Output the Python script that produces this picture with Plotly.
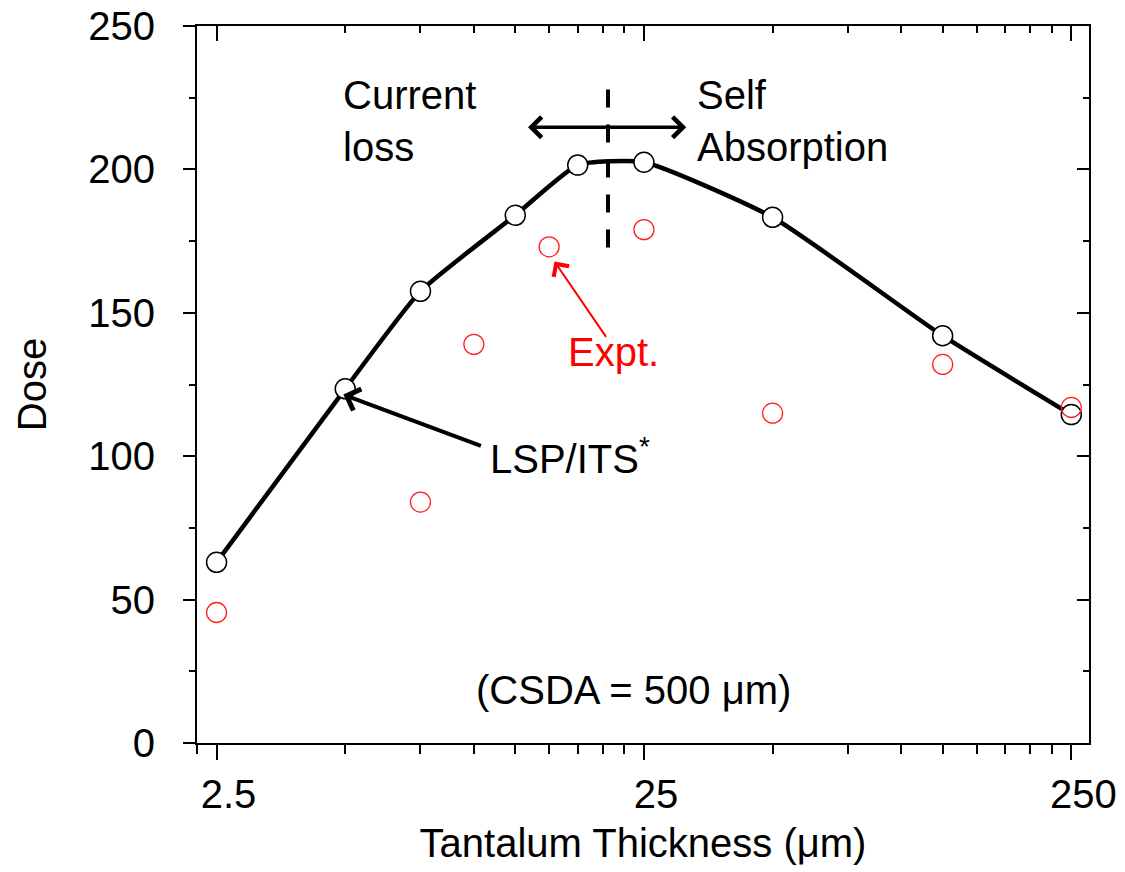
import math
import plotly.graph_objects as go

# ---- data ----
thickness_sim = [2.5, 5, 7.5, 12.5, 17.5, 25, 50, 125, 250]
dose_sim = [63, 123.5, 157.5, 184, 201.5, 202.5, 183.3, 142, 114.5]

thickness_expt = [2.5, 7.5, 10, 15, 25, 50, 125, 250]
dose_expt = [45.5, 84, 139, 173, 179, 115, 132, 117]

divider_x = [20.6, 20.6]
divider_y = [172.8, 229.7]

x_ticks = [2.5, 25, 250]
x_ticktext = ["2.5", "25", "250"]
x_minor = [2.25, 5, 7.5, 10, 12.5, 15, 17.5, 20, 22.5,
           50, 75, 100, 125, 150, 175, 200, 225]
y_ticks = [0, 50, 100, 150, 200, 250]

FONT = "Liberation Sans, Arial, sans-serif"
L = math.log10

fig = go.Figure()

# dashed divider
fig.add_trace(go.Scatter(x=divider_x, y=divider_y, mode="lines",
                         line=dict(color="black", width=4, dash="18px,17px"),
                         showlegend=False, hoverinfo="skip"))

# simulation curve
fig.add_trace(go.Scatter(x=thickness_sim, y=dose_sim, mode="lines",
                         line=dict(color="black", width=4.5, shape="spline", smoothing=0.5),
                         showlegend=False))
fig.add_trace(go.Scatter(x=thickness_sim, y=dose_sim, mode="markers",
                         marker=dict(symbol="circle", size=20, color="white",
                                     line=dict(color="black", width=1.5)),
                         showlegend=False))
# experiment
fig.add_trace(go.Scatter(x=thickness_expt, y=dose_expt, mode="markers",
                         marker=dict(symbol="circle-open", size=20, color="#ff2020",
                                     line=dict(width=1.3)),
                         showlegend=False))
# invisible trace to register the mirror axes
fig.add_trace(go.Scatter(x=thickness_sim, y=dose_sim, mode="markers", xaxis="x2", yaxis="y2",
                         marker=dict(opacity=0), showlegend=False, hoverinfo="skip"))

xr = [L(2.25), L(275)]
common_x = dict(type="log", range=xr, showline=True, linecolor="black", linewidth=2,
                tickvals=x_ticks, ticktext=x_ticktext, tickwidth=2, tickcolor="black",
                showgrid=False, zeroline=False, automargin=False)
fig.update_layout(
    width=1125, height=872,
    margin=dict(l=197, r=36, t=26, b=129, autoexpand=False),
    paper_bgcolor="white", plot_bgcolor="white",
    font=dict(family=FONT, size=40, color="black"),
    xaxis=dict(**common_x, ticks="outside", ticklen=15,
               minor=dict(tickvals=x_minor, ticks="outside", ticklen=9, tickwidth=2,
                          tickcolor="black", showgrid=False),
               tickfont=dict(size=40), ticklabelshift=12,
               title=dict(text="Tantalum Thickness (μm)", font=dict(size=40), standoff=14)),
    xaxis2=dict(**common_x, overlaying="x", side="top", ticks="inside", ticklen=15,
                minor=dict(tickvals=x_minor, ticks="inside", ticklen=7, tickwidth=2,
                           tickcolor="black", showgrid=False),
                showticklabels=False),
    yaxis=dict(range=[0, 250], tickvals=y_ticks, ticks="outside", ticklen=12, tickwidth=2,
               tickcolor="black", showline=True, linecolor="black", linewidth=2,
               minor=dict(dtick=25, ticks="outside", ticklen=6, tickwidth=2,
                          tickcolor="black", showgrid=False),
               showgrid=False, zeroline=False, tickfont=dict(size=40), automargin=False,
               ticklabelstandoff=20,
               title=dict(text="Dose", font=dict(size=40), standoff=29)),
    yaxis2=dict(range=[0, 250], tickvals=y_ticks, overlaying="y", side="right",
                ticks="inside", ticklen=12, tickwidth=2, tickcolor="black",
                showline=True, linecolor="black", linewidth=2, automargin=False,
                minor=dict(dtick=25, ticks="inside", ticklen=6, tickwidth=2,
                           tickcolor="black", showgrid=False),
                showgrid=False, zeroline=False, showticklabels=False),
)

ann_font = dict(family=FONT, size=40, color="black")
annotations = [
    dict(x=L(4.9), y=216.8, text="Current<br>loss", showarrow=False, xanchor="left",
         yanchor="middle", align="left", font=ann_font),
    dict(x=L(33.0), y=216.8, text="Self<br>Absorption", showarrow=False, xanchor="left",
         yanchor="middle", align="left", font=ann_font),
    dict(x=L(21.2), y=136.5, text="Expt.", showarrow=False, xanchor="center",
         yanchor="middle", font=dict(family=FONT, size=40, color="#ff0000")),
    dict(x=L(10.8), y=100, text="LSP/ITS<sup>*</sup>", showarrow=False, xanchor="left",
         yanchor="middle", font=ann_font),
    dict(x=L(23.6), y=18.5, text="(CSDA = 500 μm)", showarrow=False,
         xanchor="center", yanchor="middle", font=ann_font),
    # double arrow
    dict(x=L(31.4), y=214.7, ax=L(13.28), ay=214.7, xref="x", yref="y", axref="x", ayref="y",
         text="", showarrow=True, arrowhead=4, startarrowhead=4, arrowside="end+start",
         arrowsize=1.15, startarrowsize=1.15, arrowwidth=3.5, arrowcolor="black"),
    # red arrow
    dict(x=L(15.44), y=167.9, ax=L(20.5), ay=141.1, xref="x", yref="y", axref="x", ayref="y",
         text="", showarrow=True, arrowhead=4, arrowsize=1.8, arrowwidth=2, arrowcolor="#ff0000"),
    # black arrow
    dict(x=L(4.95), y=121.5, ax=L(10.47), ay=103.4, xref="x", yref="y", axref="x", ayref="y",
         text="", showarrow=True, arrowhead=4, arrowsize=1.1, arrowwidth=4, arrowcolor="black"),
]
fig.update_layout(annotations=annotations)

fig.write_html("out.html")
